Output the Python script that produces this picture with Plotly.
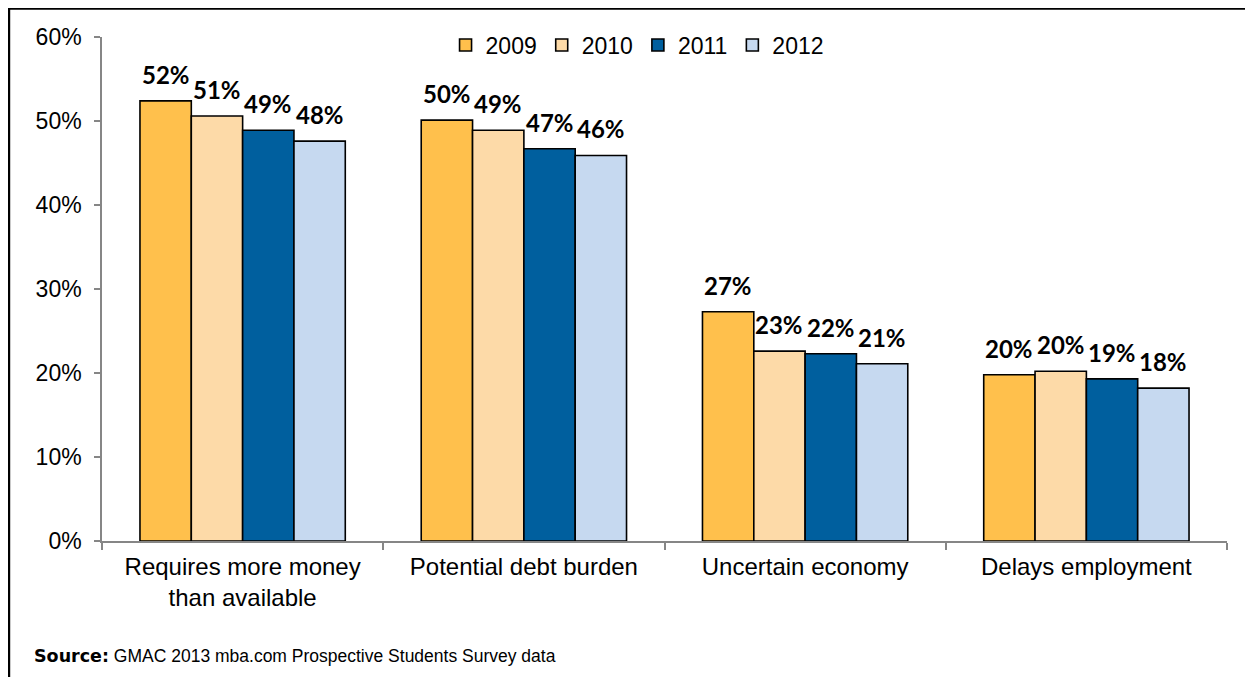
import plotly.graph_objects as go

categories = ["Requires more money<br>than available", "Potential debt burden",
              "Uncertain economy", "Delays employment"]
years = ["2009", "2010", "2011", "2012"]
values = {
    "2009": [52.4, 50.1, 27.3, 19.8],
    "2010": [50.6, 48.9, 22.6, 20.2],
    "2011": [48.9, 46.7, 22.3, 19.3],
    "2012": [47.6, 45.9, 21.1, 18.2],
}
colors = {"2009": "#FFC04C", "2010": "#FDDAA8", "2011": "#005F9E", "2012": "#C6D9F0"}
y_ticks = [0, 10, 20, 30, 40, 50, 60]
y_ticktext = [f"{v}%" for v in y_ticks]

BARGAP = 0.27
fig = go.Figure()
for yr in years:
    fig.add_trace(go.Bar(
        x=categories, y=values[yr], name=yr,
        marker=dict(color=colors[yr], line=dict(color="#000000", width=1.6)),
    ))

# data labels above bars
n = len(years)
bw = (1 - BARGAP) / n
for j, yr in enumerate(years):
    off = (j - (n - 1) / 2) * bw
    for i, v in enumerate(values[yr]):
        fig.add_annotation(
            x=i + off, y=v, xref="x", yref="y", text=f"{v:.0f}%",
            showarrow=False, yanchor="bottom", yshift=10,
            font=dict(family="Lato", size=24, color="#000000", weight="bold"),
        )

fig.add_annotation(
    x=-0.0622, y=-0.228, xref="paper", yref="paper", xanchor="left", yanchor="middle",
    showarrow=False,
    text="<span style='font-family:DejaVu Sans'><b>Source:</b></span> GMAC 2013 mba.com Prospective Students Survey data",
    font=dict(family="Arial", size=17.5, color="#000000"),
)

fig.add_shape(type="rect", xref="paper", yref="paper",
              x0=-0.0827, x1=1.1, y0=-0.4, y1=1.0565,
              line=dict(color="#000000", width=2.5), fillcolor="rgba(0,0,0,0)", layer="below")

fig.update_layout(
    width=1253, height=677,
    margin=dict(l=94, r=34, t=29, b=144),
    paper_bgcolor="white", plot_bgcolor="white",
    barmode="group", bargap=BARGAP, bargroupgap=0,
    font=dict(family="Arial", size=23, color="#000000"),
    showlegend=True,
    legend=dict(orientation="h", x=0.4756, xanchor="center", y=0.984, yanchor="middle",
                font=dict(family="Arial", size=23), bgcolor="rgba(0,0,0,0)",
                itemwidth=30, tracegroupgap=0),
    xaxis=dict(showline=True, linecolor="#868686", linewidth=1.5, ticks="outside",
               tickson="boundaries", ticklen=7, tickcolor="#868686", tickwidth=1.5,
               showgrid=False, zeroline=False, ticklabelstandoff=3,
               tickfont=dict(family="Arial", size=24, color="#000000")),
    yaxis=dict(range=[0, 60], tickmode="array", tickvals=y_ticks, ticktext=y_ticktext,
               showline=True,
               linecolor="#868686", linewidth=1.5, ticks="outside", ticklen=6,
               tickcolor="#868686", tickwidth=1.5, showgrid=False, zeroline=False,
               ticklabelstandoff=8,
               tickfont=dict(family="Arial", size=23, color="#000000")),
)

fig.write_html("out.html")
